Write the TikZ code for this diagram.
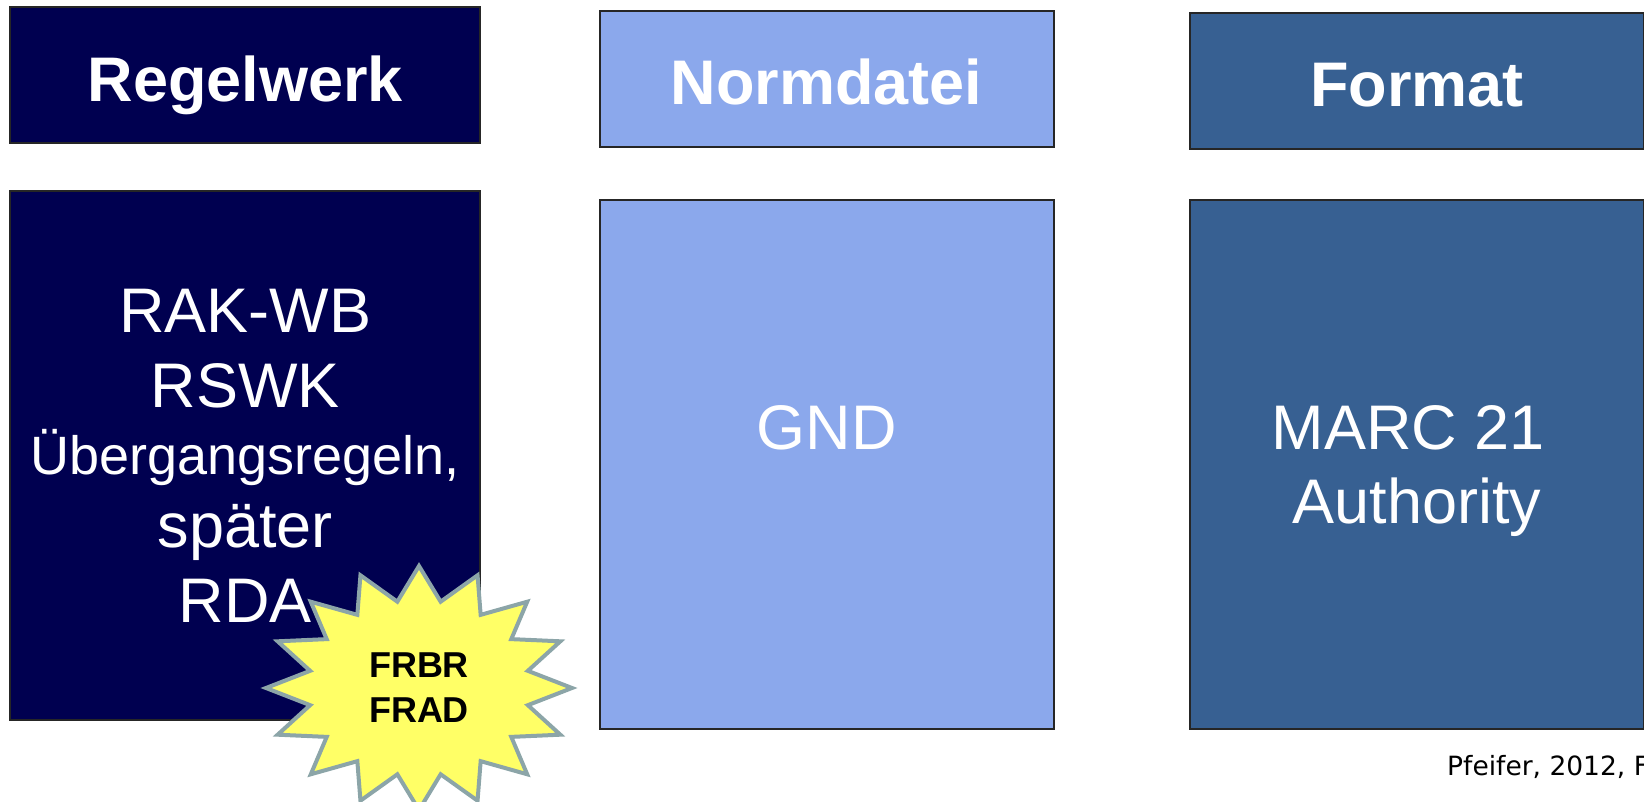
\documentclass[tikz,border=0pt]{standalone}
\usepackage{fontspec}
\setmainfont{Liberation Sans}
\newfontfamily\creditfont{DejaVu Sans}
\definecolor{rwnavy}{RGB}{0,0,80}
\definecolor{ndblue}{RGB}{139,168,236}
\definecolor{fmblue}{RGB}{55,96,146}
\definecolor{burstfill}{RGB}{255,255,102}
\definecolor{burstline}{RGB}{140,165,168}

\begin{document}
\begin{tikzpicture}[x=1pt,y=-1pt,
    box/.style={draw=black!85,line width=2pt,inner sep=0pt,text=white,align=center},
    head/.style={box,minimum height=136pt,font=\bfseries\fontsize{63}{75}\selectfont,
      text height=52pt,text depth=0pt},
    body/.style={box,minimum height=529pt,font=\fontsize{63}{75}\selectfont},
    burst/.style={draw=burstline,fill=burstfill,line width=4pt,line join=miter},
    bursttext/.style={align=center,inner sep=0pt,text depth=0pt,
      font=\bfseries\fontsize{36}{45}\selectfont},
    credit/.style={inner sep=0pt,font=\creditfont\fontsize{26.5}{32}\selectfont}]
    \useasboundingbox (0,0) rectangle (1644,802);
    % headers
    \node[head,fill=rwnavy,minimum width=470pt] (rwhead) at (245.3,75.5) {Regelwerk};
    \node[head,fill=ndblue,minimum width=454pt] (ndhead) at (826.7,78.6) {Normdatei};
    \node[head,fill=fmblue,minimum width=454pt] (fmhead) at (1417,80.7) {Format};
    % contents
    \node[body,fill=rwnavy,minimum width=470pt,text depth=0pt] (rwbody) at (245.3,455.5)
      {RAK-WB\\RSWK\\[-8pt]{\fontsize{54}{64}\selectfont Übergangsregeln,}\\[-2pt]später\\RDA};
    \node[body,fill=ndblue,minimum width=454pt,text depth=74pt] (ndbody) at (826.7,464.5) {GND};
    \node[body,fill=fmblue,minimum width=454pt,text depth=0pt] (fmbody) at (1417,464.5)
      {MARC 21\hspace*{.278em}\\[-1pt]Authority};
    % burst
    \draw[burst] plot[samples at={0,...,31},variable=\k]
      ({419+(isodd(\k)?111:153)*sin(11.25*\k)},{688-(isodd(\k)?88:122)*cos(11.25*\k)}) -- cycle;
    \node[bursttext] (frbr) at (419,687.5) {FRBR\\FRAD};
    \node[credit,anchor=base west] (src) at (1447,775) {Pfeifer, 2012, F};
\end{tikzpicture}
\end{document}
